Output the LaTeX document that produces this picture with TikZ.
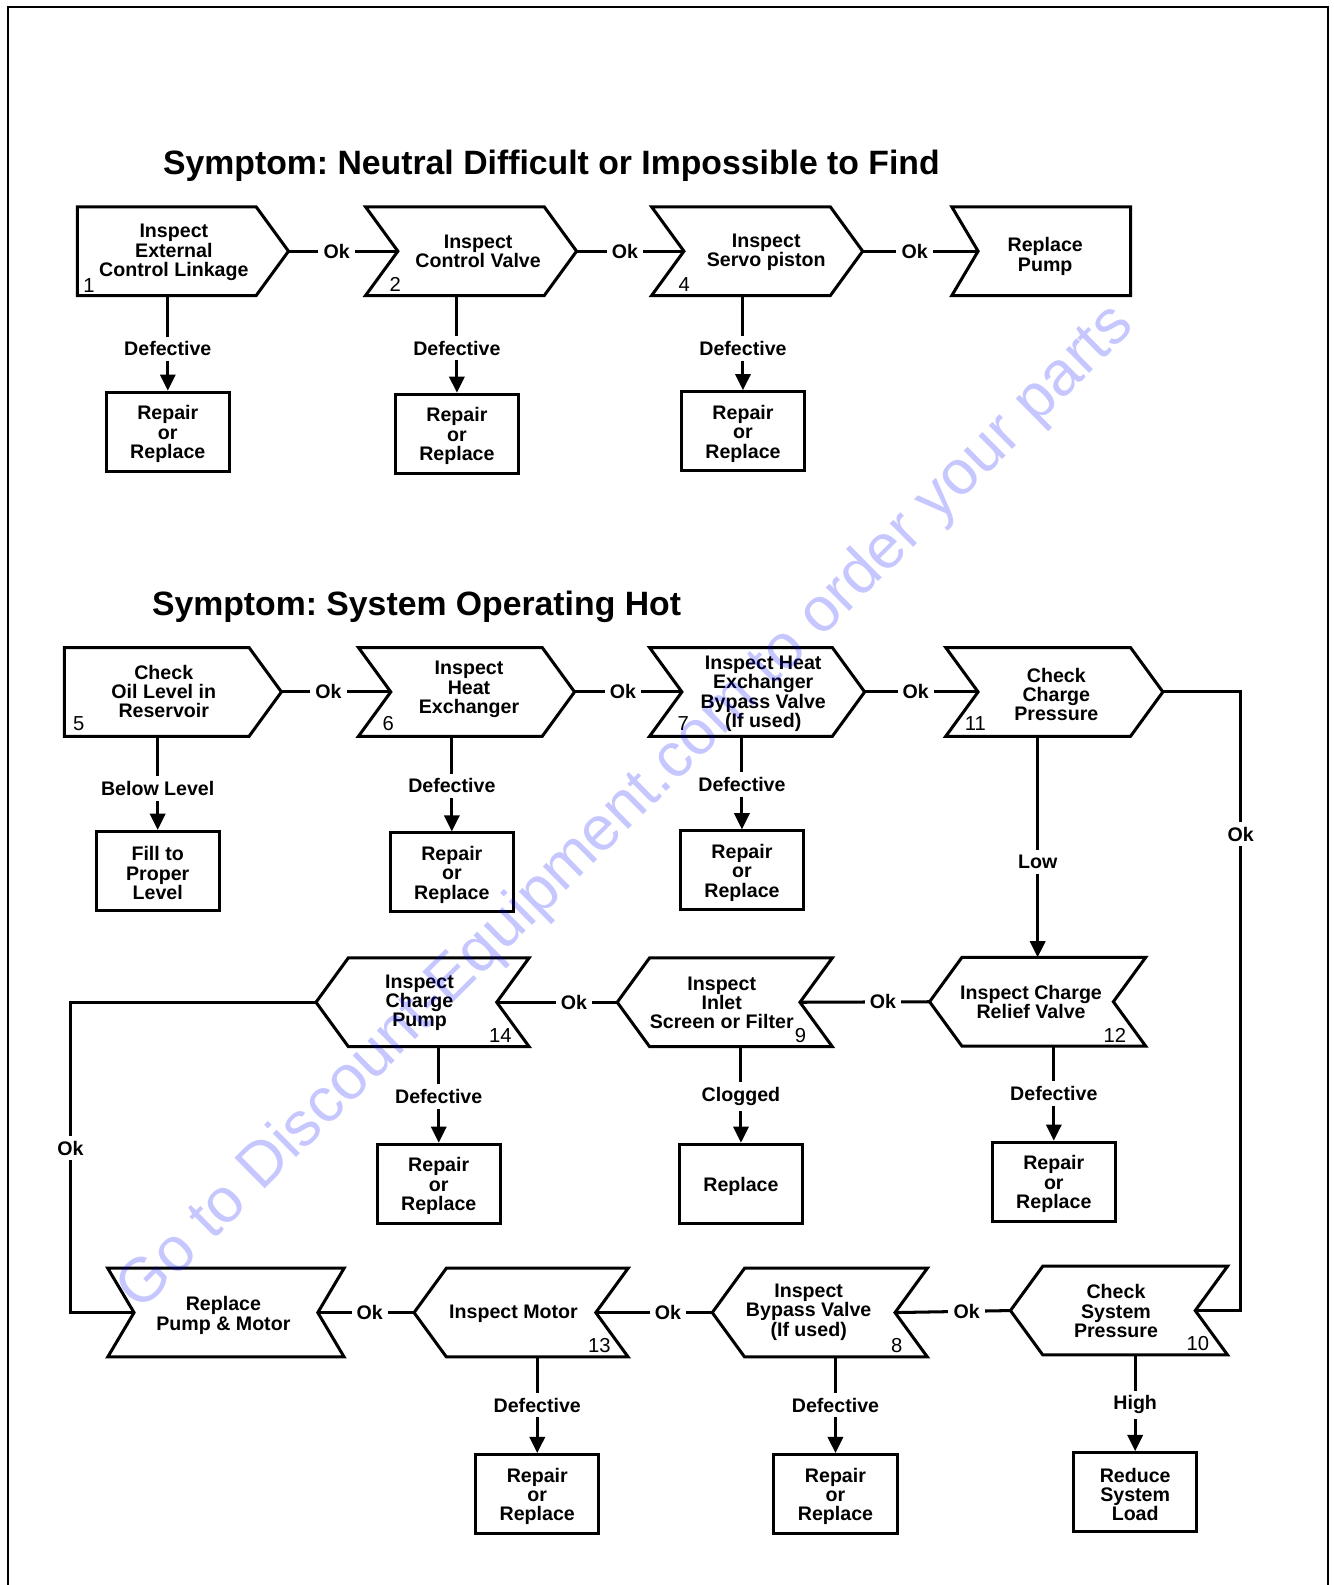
\documentclass[tikz,border=0pt]{standalone}
\usepackage{fontspec}
\setmainfont{Liberation Sans}
\usetikzlibrary{arrows.meta,calc}
\frenchspacing

% notch / point depth of the step shapes
\def\nd{16pt}

% outlines drawn round a named (invisible) step node
\newcommand{\olPentR}[2]{\draw[edge] (#1.north west) -- ([xshift=-#2]#1.north east) -- (#1.east) -- ([xshift=-#2]#1.south east) -- (#1.south west) -- cycle;}
\newcommand{\olChevR}[2]{\draw[edge] (#1.north west) -- ([xshift=-#2]#1.north east) -- (#1.east) -- ([xshift=-#2]#1.south east) -- (#1.south west) -- ([xshift=#2]#1.west) -- cycle;}
\newcommand{\olChevRflat}[2]{\draw[edge] (#1.north west) -- (#1.north east) -- (#1.south east) -- (#1.south west) -- ([xshift=#2]#1.west) -- cycle;}
\newcommand{\olChevL}[2]{\draw[edge] (#1.west) -- ([xshift=#2]#1.north west) -- (#1.north east) -- ([xshift=-#2]#1.east) -- (#1.south east) -- ([xshift=#2]#1.south west) -- cycle;}
\newcommand{\olBow}[2]{\draw[edge] (#1.north west) -- (#1.north east) -- ([xshift=-#2]#1.east) -- (#1.south east) -- (#1.south west) -- ([xshift=#2]#1.west) -- cycle;}

\tikzset{
  edge/.style={line width=1.5pt, line join=miter},
  stepbox/.style={inner sep=0pt, minimum height=43.5pt},
  steptext/.style={font=\bfseries\fontsize{9.7}{9.6}\selectfont, align=center, inner sep=0pt},
  stepnum/.style={font=\fontsize{10}{11}\selectfont, inner sep=0pt},
  result/.style={draw, line width=1.5pt, minimum width=61pt, minimum height=39pt,
    inner sep=0pt, align=center, font=\bfseries\fontsize{9.7}{9.6}\selectfont},
  resulttext/.style={font=\bfseries\fontsize{9.7}{9.6}\selectfont, align=center, inner sep=0pt, yshift=-1.2pt},
  conn/.style={line width=1.5pt},
  arrowconn/.style={conn, -{Triangle[length=8pt,width=7.5pt]}},
  lbl/.style={fill=white, inner sep=2.5pt, font=\bfseries\fontsize{9.7}{9.6}\selectfont},
  title/.style={font=\bfseries\fontsize{16.7}{20}\selectfont, inner sep=0pt},
  watermark/.style={text=blue, opacity=0.22, font=\fontsize{31}{36}\selectfont, inner sep=0pt},
}

% result box: framed node plus its text set a touch lower
\newcommand{\resbox}[3]{\node[result] (#1) at (#2) {};
  \node[resulttext] (#1t) at (#1.center) {#3};}

\begin{document}
\begin{tikzpicture}[x=0.5pt,y=-0.5pt]
\useasboundingbox (0,0) rectangle (1319,1568);

% page frame
\draw[line width=1pt] (8,1568) -- (8,7) -- (1314,7) -- (1314,1568);

% ---------------- Neutral difficult or impossible to find ----------------
\node[title, anchor=base west] (t1) at (161,173) {Symptom: Neutral Difficult or Impossible to Find};

\node[stepbox, minimum width=104pt] (n1) at (181,248.5) {};
\node[stepbox, minimum width=104pt] (n2) at (466,248.5) {};
\node[stepbox, minimum width=104pt] (n4) at (749,248.5) {};
\node[stepbox, minimum width=88pt]  (rp) at (1030,248.5) {};
\olPentR{n1}{\nd}
\olChevR{n2}{\nd}
\olChevR{n4}{\nd}
\olChevRflat{rp}{13pt}

\node[steptext] (n1t) at (172,250) {Inspect\\External\\Control Linkage};
\node[steptext] (n2t) at (473,248.5) {Inspect\\Control Valve};
\node[steptext] (n4t) at (758,249.5) {Inspect\\Servo piston};
\node[steptext] (rpt) at (1034,253.5) {Replace\\Pump};
\node[stepnum] (n1n) at (88,282) {1};
\node[stepnum] (n2n) at (391,281) {2};
\node[stepnum] (n4n) at (677,281) {4};

\resbox{r1}{166,427}{Repair\\or\\Replace}
\resbox{r2}{452,429}{Repair\\or\\Replace}
\resbox{r4}{735,426.5}{Repair\\or\\Replace}

\draw[conn] (n1.east) -- node[lbl,pos=0.44]{Ok} ([xshift=\nd]n2.west);
\draw[conn] (n2.east) -- node[lbl,pos=0.45]{Ok} ([xshift=\nd]n4.west);
\draw[conn] (n4.east) -- node[lbl,pos=0.45]{Ok} ([xshift=13pt]rp.west);

\draw[arrowconn] (r1.north |- n1.south) -- node[lbl,pos=0.56]{Defective} (r1.north);
\draw[arrowconn] (r2.north |- n2.south) -- node[lbl,pos=0.54]{Defective} (r2.north);
\draw[arrowconn] (r4.north |- n4.south) -- node[lbl,pos=0.56]{Defective} (r4.north);

% ---------------- System operating hot ----------------
\node[title, anchor=base west] (t2) at (150,609) {Symptom: System Operating Hot};

% first row, left to right
\node[stepbox, minimum width=107pt]  (n5)  at (171,684.5) {};
\node[stepbox, minimum width=106.5pt] (n6) at (461.5,684.5) {};
\node[stepbox, minimum width=106pt]  (n7)  at (749,684.5) {};
\node[stepbox, minimum width=107pt]  (n11) at (1043,684.5) {};
\olPentR{n5}{\nd}
\olChevR{n6}{\nd}
\olChevR{n7}{\nd}
\olChevR{n11}{\nd}

\node[steptext] (n5t)  at (162,684) {Check\\Oil Level in\\Reservoir};
\node[steptext] (n6t)  at (464,682) {Inspect\\Heat\\Exchanger};
\node[steptext] (n7t)  at (755,686.5) {Inspect Heat\\Exchanger\\Bypass Valve\\(If used)};
\node[steptext] (n11t) at (1045,687) {Check\\Charge\\Pressure};
\node[stepnum] (n5n)  at (78,716) {5};
\node[stepnum] (n6n)  at (384,716) {6};
\node[stepnum] (n7n)  at (676,716) {7};
\node[stepnum] (n11n) at (965,716) {11};

\resbox{r5}{156,861.5}{Fill to\\Proper\\Level}
\resbox{r6}{447,863}{Repair\\or\\Replace}
\resbox{r7}{734,861}{Repair\\or\\Replace}

\draw[conn] (n5.east) -- node[lbl,pos=0.43]{Ok} ([xshift=\nd]n6.west);
\draw[conn] (n6.east) -- node[lbl,pos=0.45]{Ok} ([xshift=\nd]n7.west);
\draw[conn] (n7.east) -- node[lbl,pos=0.45]{Ok} ([xshift=\nd]n11.west);

\draw[arrowconn] (r5.north |- n5.south) -- node[lbl,pos=0.56]{Below Level} (r5.north);
\draw[arrowconn] (r6.north |- n6.south) -- node[lbl,pos=0.52]{Defective} (r6.north);
\draw[arrowconn] (r7.north |- n7.south) -- node[lbl,pos=0.52]{Defective} (r7.north);

% second row, right to left
\node[stepbox, minimum width=106.5pt] (n12) at (1026.5,991) {};
\node[stepbox, minimum width=106pt]   (n9)  at (717,991.5) {};
\node[stepbox, minimum width=105pt]   (n14) at (418,991.5) {};
\olChevL{n12}{\nd}
\olChevL{n9}{\nd}
\olChevL{n14}{\nd}

\node[steptext] (n12t) at (1020,991) {Inspect Charge\\Relief Valve};
\node[steptext] (n9t)  at (714,992) {Inspect\\Inlet\\Screen or Filter};
\node[steptext] (n14t) at (415,992) {Inspect\\Charge\\Pump};
\node[stepnum] (n12n) at (1103,1024) {12};
\node[stepnum] (n9n)  at (792,1024) {9};
\node[stepnum] (n14n) at (495,1024) {14};

\resbox{r12}{1042.5,1169}{Repair\\or\\Replace}
\resbox{r9}{733,1171}{Replace}
\resbox{r14}{434,1171}{Repair\\or\\Replace}

\draw[arrowconn] (n12.north |- n11.south) -- node[lbl,pos=0.57]{Low} (n12.north);
\draw[conn] (n12.west) -- node[lbl,pos=0.36]{Ok} ([xshift=-\nd]n9.east);
\draw[conn] (n9.west) -- node[lbl,pos=0.36]{Ok} ([xshift=-\nd]n14.east);

\draw[arrowconn] (r12.north |- n12.south) -- node[lbl,pos=0.5]{Defective} (r12.north);
\draw[arrowconn] (r9.north |- n9.south) -- node[lbl,pos=0.52]{Clogged} (r9.north);
\draw[arrowconn] (r14.north |- n14.south) -- node[lbl,pos=0.52]{Defective} (r14.north);

% third row, right to left
\node[stepbox, minimum width=107pt]   (n10) at (1107,1296.5) {};
\node[stepbox, minimum width=106pt]   (n8)  at (811,1298.5) {};
\node[stepbox, minimum width=105.5pt] (n13) at (515.5,1298.5) {};
\node[stepbox, minimum width=116.5pt] (rpm) at (223.5,1298.5) {};
\olChevL{n10}{\nd}
\olChevL{n8}{\nd}
\olChevL{n13}{\nd}
\olBow{rpm}{13pt}

\node[steptext] (n10t) at (1104,1297) {Check\\System\\Pressure};
\node[steptext] (n8t)  at (800,1298) {Inspect\\Bypass Valve\\(If used)};
\node[steptext] (n13t) at (508,1300) {Inspect Motor};
\node[steptext] (rpmt) at (221,1301.5) {Replace\\Pump \& Motor};
\node[stepnum] (n10n) at (1185,1329) {10};
\node[stepnum] (n8n)  at (887,1331) {8};
\node[stepnum] (n13n) at (593,1331) {13};

\resbox{r10}{1123,1476}{Reduce\\System\\Load}
\resbox{r8}{826.5,1478}{Repair\\or\\Replace}
\resbox{r13}{531.5,1478}{Repair\\or\\Replace}

\draw[conn] (n11.east) -| node[lbl,pos=0.615]{Ok} ($(n10.east)+(13,0)$) -- ([xshift=-\nd]n10.east);
\draw[conn] (n10.west) -- node[lbl,pos=0.38]{Ok} ([xshift=-\nd]n8.east);
\draw[conn] (n8.west) -- node[lbl,pos=0.38]{Ok} ([xshift=-\nd]n13.east);
\draw[conn] (n13.west) -- node[lbl,pos=0.46]{Ok} ([xshift=-13pt]rpm.east);
\draw[conn] (n14.west) -| node[lbl,pos=0.735]{Ok} ($(rpm.west)+(-37,0)$) -- ([xshift=13pt]rpm.west);

\draw[arrowconn] (r10.north |- n10.south) -- node[lbl,pos=0.52]{High} (r10.north);
\draw[arrowconn] (r8.north |- n8.south) -- node[lbl,pos=0.5]{Defective} (r8.north);
\draw[arrowconn] (r13.north |- n13.south) -- node[lbl,pos=0.5]{Defective} (r13.north);

% diagonal site stamp across the sheet
\node[watermark, rotate=44.7] (wm) at (620,800) {Go to Discount-Equipment.com to order your parts};
\end{tikzpicture}
\end{document}
